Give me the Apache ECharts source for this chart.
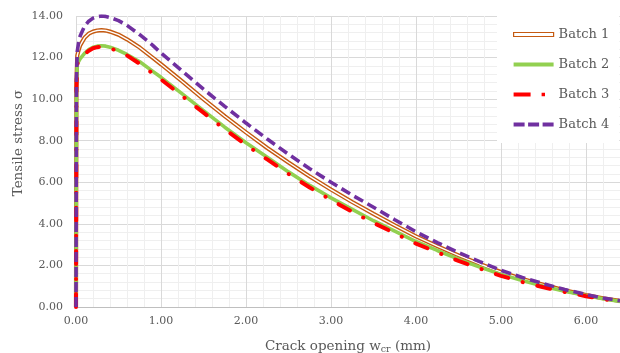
<!DOCTYPE html>
<html>
<head>
<meta charset="utf-8">
<script src="https://cdn.jsdelivr.net/npm/echarts@6/dist/echarts.min.js"></script>
<style>
html,body{margin:0;padding:0;background:#fff;}
#chart{width:620px;height:353px;}
</style>
</head>
<body>
<div id="chart"></div>
<script>
// Crack opening w_cr (mm)
var wcr = [0, 0.005, 0.015, 0.03, 0.05, 0.1, 0.15, 0.2, 0.25, 0.3, 0.35, 0.4, 0.5, 0.6, 0.75, 0.9, 1.0, 1.25, 1.5, 1.75, 2.0, 2.25, 2.5, 2.75, 3.0, 3.25, 3.5, 3.75, 4.0, 4.25, 4.5, 4.75, 5.0, 5.25, 5.5, 5.75, 6.0, 6.2, 6.4];
var batch1 = [0, 10.8, 12.1, 12.35, 12.6, 12.95, 13.15, 13.25, 13.3, 13.32, 13.3, 13.25, 13.1, 12.88, 12.48, 12.0, 11.68, 10.85, 10.0, 9.18, 8.4, 7.65, 6.95, 6.28, 5.65, 5.05, 4.48, 3.93, 3.4, 2.93, 2.48, 2.07, 1.68, 1.35, 1.07, 0.8, 0.58, 0.42, 0.29];
var batch2 = [0, 10.5, 11.7, 11.78, 11.95, 12.2, 12.38, 12.5, 12.55, 12.57, 12.55, 12.5, 12.35, 12.15, 11.8, 11.35, 11.05, 10.25, 9.45, 8.65, 7.9, 7.2, 6.5, 5.85, 5.25, 4.7, 4.15, 3.65, 3.15, 2.72, 2.3, 1.92, 1.57, 1.27, 1.0, 0.76, 0.55, 0.4, 0.27];
var batch3 = [0, 10.5, 11.7, 11.75, 11.9, 12.15, 12.33, 12.45, 12.5, 12.52, 12.5, 12.45, 12.3, 12.1, 11.7, 11.25, 10.95, 10.15, 9.35, 8.55, 7.8, 7.1, 6.4, 5.75, 5.15, 4.58, 4.05, 3.55, 3.05, 2.63, 2.22, 1.85, 1.5, 1.2, 0.95, 0.72, 0.52, 0.38, 0.25];
var batch4 = [0, 11.0, 12.3, 12.7, 13.05, 13.5, 13.75, 13.9, 13.97, 14.0, 13.98, 13.93, 13.78, 13.55, 13.1, 12.6, 12.22, 11.35, 10.48, 9.65, 8.85, 8.08, 7.35, 6.65, 6.0, 5.38, 4.8, 4.2, 3.62, 3.1, 2.62, 2.18, 1.76, 1.42, 1.12, 0.84, 0.6, 0.43, 0.3];
var seriesNames = ['Batch 1', 'Batch 2', 'Batch 3', 'Batch 4'];
var xTitle = 'Crack opening w{sub|cr} (mm)';
var yTitle = 'Tensile stress σ';

function pairs(ys) { return wcr.map(function (x, i) { return [x, ys[i]]; }); }

var FONT = 'DejaVu Serif';
var TXT = '#595959';
var C1 = '#c55a11', C2 = '#92d050', C3 = '#ff0000', C4 = '#7030a0';

var chart = echarts.init(document.getElementById('chart'), null, {renderer: 'canvas'});
chart.setOption({
  animation: false,
  backgroundColor: '#fff',
  grid: {left: 76, right: 0, top: 16, bottom: 46, containLabel: false, outerBoundsMode: 'none'},
  xAxis: {
    type: 'value', min: 0, max: 6.4, interval: 1,
    axisLine: {show: true, lineStyle: {color: '#bfbfbf', width: 1}},
    axisTick: {show: false},
    axisLabel: {showMaxLabel: false, margin: 9, color: TXT, fontFamily: FONT, fontSize: 11,
      formatter: function (v) { return v.toFixed(2); }},
    splitLine: {show: true, lineStyle: {color: '#d9d9d9', width: 1}},
    minorTick: {show: false, splitNumber: 5},
    minorSplitLine: {show: true, lineStyle: {color: '#efefef', width: 1}},
    name: xTitle, nameLocation: 'middle', nameGap: 30,
    nameTextStyle: {color: TXT, fontFamily: FONT, fontSize: 13.5,
      rich: {sub: {fontSize: 9.5, color: TXT, fontFamily: FONT, verticalAlign: 'bottom', padding: [8, 0, 0, 0]}}}
  },
  yAxis: {
    type: 'value', min: 0, max: 14, interval: 2,
    axisLine: {show: false},
    axisTick: {show: false},
    axisLabel: {margin: 13, color: TXT, fontFamily: FONT, fontSize: 11,
      formatter: function (v) { return v.toFixed(2); }},
    splitLine: {show: true, lineStyle: {color: '#d9d9d9', width: 1}},
    minorTick: {show: false, splitNumber: 5},
    minorSplitLine: {show: true, lineStyle: {color: '#efefef', width: 1}}
  },
  graphic: [{
    type: 'text', x: 18, y: 143, rotation: Math.PI / 2,
    style: {text: yTitle, fill: TXT, fontFamily: FONT, fontSize: 13.5, align: 'center', verticalAlign: 'middle'}
  }],
  legend: {
    orient: 'vertical', left: 497, top: 16, padding: [12, 10, 12, 16],
    backgroundColor: '#fff', itemWidth: 40, itemHeight: 14, itemGap: 17,
    symbolKeepAspect: true,
    textStyle: {color: TXT, fontFamily: FONT, fontSize: 13},
    data: [
      {name: seriesNames[0], icon: 'path://M0,0h40v4h-40z', itemStyle: {color: '#fff', borderColor: C1, borderWidth: 1.2}},
      {name: seriesNames[1], icon: 'path://M0,0h40v4h-40z', itemStyle: {color: C2, borderWidth: 0}},
      {name: seriesNames[2], icon: 'path://M0,0h17v4h-17z M28,0.3h3.4v3.4h-3.4z M39.9,1.9h0.1v0.1h-0.1z', itemStyle: {color: C3, borderWidth: 0}},
      {name: seriesNames[3], icon: 'path://M0,0h11v4h-11z M14.5,0h11v4h-11z M29,0h11v4h-11z', itemStyle: {color: C4, borderWidth: 0}}
    ]
  },
  series: [
    {name: seriesNames[0], type: 'line', data: pairs(batch1), symbol: 'none', silent: true,
      itemStyle: {color: C1}, lineStyle: {color: C1, width: 4.2}},
    {name: 'Batch 1 inner', type: 'line', data: pairs(batch1), symbol: 'none', silent: true,
      itemStyle: {color: '#fff'}, lineStyle: {color: '#fff', width: 1.4}},
    {name: seriesNames[1], type: 'line', data: pairs(batch2), symbol: 'none', silent: true,
      itemStyle: {color: C2}, lineStyle: {color: C2, width: 3.6}},
    {name: seriesNames[2], type: 'line', data: pairs(batch3), symbol: 'none', silent: true,
      itemStyle: {color: C3}, lineStyle: {color: C3, width: 4, type: [13, 15, 0.1, 15], cap: 'round'}},
    {name: seriesNames[3], type: 'line', data: pairs(batch4), symbol: 'none', silent: true,
      itemStyle: {color: C4}, lineStyle: {color: C4, width: 3.6, type: [10, 5]}}
  ]
});
</script>
</body>
</html>
